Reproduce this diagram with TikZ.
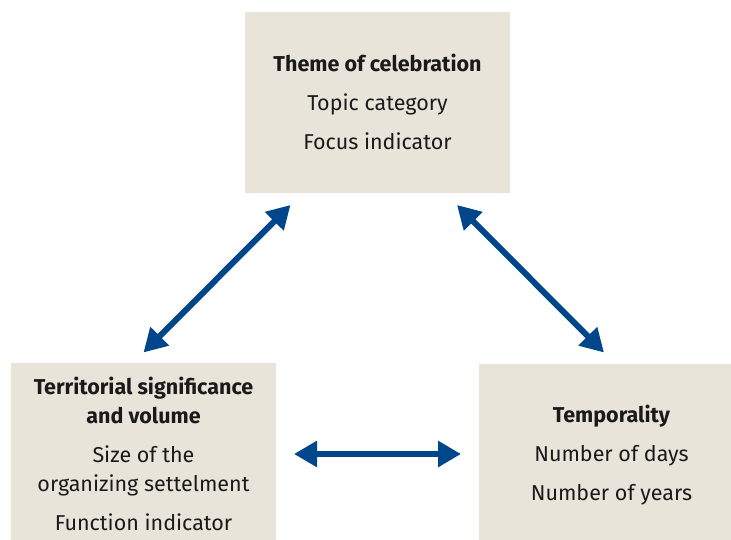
\documentclass[tikz,border=0pt]{standalone}
\usepackage{fontspec}
\setmainfont{Fira Sans}
\usetikzlibrary{arrows.meta}
\definecolor{boxfill}{HTML}{E9E4DA}
\definecolor{arrowblue}{HTML}{00468B}
\definecolor{txt}{HTML}{1A1A1A}
\tikzset{
  box/.style={fill=boxfill, draw=none, inner sep=0pt},
  label text/.style={align=center, text=txt, inner sep=0pt,
    font=\fontsize{21.5}{29}\selectfont},
  link/.style={draw=arrowblue, line width=6pt, {Triangle[length=23pt,width=25pt]}-{Triangle[length=23pt,width=25pt]}}
}
\begin{document}
\begin{tikzpicture}[x=1pt,y=-1pt]
\useasboundingbox (0,0) rectangle (731,540);
\node[box, minimum width=265pt, minimum height=181pt] (theme) at (377.5,102.5) {};
\node[box, minimum width=265pt, minimum height=177pt] (terr) at (143.5,451.5) {};
\node[box, minimum width=252pt, minimum height=176pt] (temp) at (605,452) {};
\node[label text] (themetxt) at (377.5,102)
  {\textbf{Theme of celebration}\\[10pt]Topic category\\[10pt]Focus indicator};
\node[label text] (terrtxt) at (143.5,454)
  {\textbf{Territorial significance}\\\textbf{and volume}\\[10pt]Size of the\\organizing settelment\\[10pt]Function indicator};
\node[label text] (temptxt) at (611.5,455)
  {\textbf{Temporality}\\[10pt]Number of days\\[10pt]Number of years};
\coordinate (l1) at (290.5,205);
\coordinate (l2) at (143.5,352.5);
\coordinate (r1) at (457,205);
\coordinate (r2) at (604,352.5);
\coordinate (h1) at (294,454);
\coordinate (h2) at (461,454);
\draw[link] (l1) -- (l2);
\draw[link] (r1) -- (r2);
\draw[link] (h1) -- (h2);
\end{tikzpicture}
\end{document}
